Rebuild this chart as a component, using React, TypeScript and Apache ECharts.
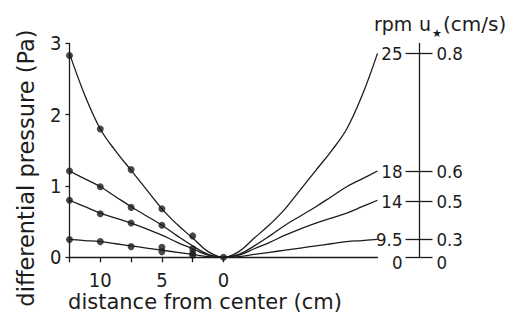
import React, { useEffect, useRef } from "react";
import * as echarts from "echarts";

// distance from center (cm) at which the fitted curves are read (left half)
const distances = [12.5, 11.25, 10, 8.75, 7.5, 6.25, 5, 3.75, 2.5, 1.25, 0];

// fitted curves: differential pressure (Pa)
const curve25 = [2.86, 2.27, 1.8, 1.49, 1.22, 0.95, 0.68, 0.46, 0.27, 0.08, 0];
const curve18 = [1.21, 1.1, 0.99, 0.85, 0.71, 0.58, 0.45, 0.3, 0.16, 0.04, 0];
const curve14 = [0.8, 0.71, 0.62, 0.55, 0.48, 0.4, 0.31, 0.21, 0.12, 0.03, 0];
const curve95 = [0.25, 0.235, 0.22, 0.19, 0.16, 0.13, 0.1, 0.07, 0.04, 0.01, 0];

// measured points [distance, pressure]
const points25 = [[12.5, 2.83], [10, 1.8], [7.5, 1.23], [5, 0.68], [2.5, 0.3]];
const points18 = [[12.5, 1.21], [10, 0.99], [7.5, 0.7], [5, 0.45], [2.5, 0.12]];
const points14 = [[12.5, 0.8], [10, 0.61], [7.5, 0.48], [2.5, 0.06]];
const points95 = [[12.5, 0.25], [10, 0.22], [7.5, 0.15], [5, 0.14], [5, 0.08], [2.5, 0.03]];
const pointsCenter = [[0, 0]];

// right-hand scale (pressure at curve end, rpm, friction velocity u*)
const endPressures = [0, 0.25, 0.78, 1.2, 2.86];
const rpmLabels = ["0", "9.5", "14", "18", "25"];
const uStarLabels = ["0", "0.3", "0.5", "0.6", "0.8"];

// axis ticks
const yTicks = [0, 1, 2, 3];
const xTicks = [12.5, 10, 7.5, 5, 2.5, 0];
const xTickLabels = [10, 5, 0];

const INK = "#1c1c1c";
const DIGIT_FONT = "'Liberation Sans Narrow', 'DejaVu Sans Condensed', 'Liberation Sans', sans-serif";
const TITLE_FONT = "'DejaVu Sans', sans-serif";

function symmetric(vals: number[]) {
  const left = distances.map((d, i) => [d, vals[i]]);
  const right = distances
    .slice(0, -1)
    .map((d, i) => [-d, vals[i]])
    .reverse();
  return left.concat(right);
}

function lookup(labels: string[]) {
  return (v: number) => {
    const i = endPressures.findIndex((p) => Math.abs(p - v) < 1e-6);
    return i >= 0 ? labels[i] : "";
  };
}

export default function App() {
  const ref = useRef<HTMLDivElement>(null);
  useEffect(() => {
    if (!ref.current) return;
    const chart = echarts.init(ref.current, null, { renderer: "svg" });
    const lineSeries = [curve25, curve18, curve14, curve95].map((c) => ({
      type: "line",
      data: symmetric(c),
      smooth: 0.4,
      showSymbol: false,
      symbol: "none",
      lineStyle: { color: INK, width: 1.3 },
      silent: true,
      z: 2,
    }));
    const scatterSeries = [points25, points18, points14, points95, pointsCenter].map((p) => ({
      type: "scatter",
      data: p,
      symbol: "circle",
      symbolSize: 7,
      itemStyle: { color: INK },
      silent: true,
      z: 3,
    }));

    // one right-hand axis per group of values, so that no label hides another
    const rightAxis = (
      values: number[],
      inside: boolean,
      labels: string[],
      showLine: boolean,
      atZero: boolean
    ) => ({
      type: "value",
      min: 0,
      max: 3,
      position: "right",
      offset: 42,
      splitLine: { show: false },
      axisLine: { show: showLine, onZero: false, lineStyle: { color: INK, width: 1.3 } },
      axisTick: {
        show: true,
        inside,
        customValues: values,
        length: inside ? 14 : 13,
        lineStyle: { color: INK, width: 1.3 },
      },
      axisLabel: {
        inside,
        customValues: values,
        formatter: lookup(labels),
        margin: 17,
        color: INK,
        fontFamily: DIGIT_FONT,
        fontSize: 18.5,
        verticalAlign: atZero ? "top" : "middle",
        lineHeight: atZero ? 10 : 18,
        showMinLabel: true,
        showMaxLabel: true,
      },
    });
    const upper = endPressures.slice(1);
    const zero = endPressures.slice(0, 1);

    chart.setOption({
      animation: false,
      backgroundColor: "#ffffff",
      grid: {
        left: 69.5,
        right: 148.5,
        top: 43.4,
        bottom: 62.7,
        containLabel: false,
        outerBoundsMode: "none",
      },
      xAxis: {
        type: "value",
        min: -12.5,
        max: 12.5,
        inverse: true,
        axisLine: { show: true, onZero: false, lineStyle: { color: INK, width: 1.3 } },
        axisTick: {
          show: true,
          customValues: xTicks,
          length: 5,
          lineStyle: { color: INK, width: 1.3 },
        },
        axisLabel: {
          customValues: xTickLabels,
          margin: 16,
          lineHeight: 14,
          color: INK,
          fontFamily: DIGIT_FONT,
          fontSize: 20,
        },
        splitLine: { show: false },
      },
      yAxis: [
        {
          type: "value",
          min: 0,
          max: 3,
          interval: 1,
          position: "left",
          axisLine: { show: true, onZero: false, lineStyle: { color: INK, width: 1.3 } },
          axisTick: { show: true, customValues: yTicks, length: 4, lineStyle: { color: INK, width: 1.3 } },
          axisLabel: {
            customValues: yTicks,
            margin: 8,
            color: INK,
            fontFamily: DIGIT_FONT,
            fontSize: 20,
            showMinLabel: true,
            showMaxLabel: true,
          },
          splitLine: { show: false },
        },
        rightAxis(upper, true, rpmLabels, true, false),
        rightAxis(upper, false, uStarLabels, false, false),
        rightAxis(zero, true, rpmLabels, false, true),
        rightAxis(zero, false, uStarLabels, false, true),
      ],
      graphic: [
        {
          type: "text",
          x: 26,
          y: 168,
          rotation: Math.PI / 2,
          style: {
            text: "differential pressure (Pa)",
            fill: INK,
            font: `22.5px ${TITLE_FONT}`,
            textAlign: "center",
            textVerticalAlign: "middle",
          },
        },
        {
          type: "text",
          x: 205,
          y: 302,
          style: {
            text: "distance from center (cm)",
            fill: INK,
            font: `21px ${TITLE_FONT}`,
            textAlign: "center",
            textVerticalAlign: "middle",
          },
        },
        {
          type: "text",
          x: 374,
          y: 24,
          style: {
            text: "rpm",
            fill: INK,
            font: `19px ${TITLE_FONT}`,
            textAlign: "left",
            textVerticalAlign: "middle",
          },
        },
        {
          type: "text",
          x: 419,
          y: 24,
          style: {
            text: "u",
            fill: INK,
            font: `19px ${TITLE_FONT}`,
            textAlign: "left",
            textVerticalAlign: "middle",
          },
        },
        {
          type: "text",
          x: 437,
          y: 33,
          style: {
            text: "★",
            fill: INK,
            font: `11px ${TITLE_FONT}`,
            textAlign: "center",
            textVerticalAlign: "middle",
          },
        },
        {
          type: "text",
          x: 443,
          y: 24,
          style: {
            text: "(cm/s)",
            fill: INK,
            font: `20px ${TITLE_FONT}`,
            textAlign: "left",
            textVerticalAlign: "middle",
          },
        },
      ],
      series: [...lineSeries, ...scatterSeries],
    });
    return () => chart.dispose();
  }, []);
  return (
    <div
      ref={ref}
      style={{ position: "fixed", left: 0, top: 0, width: 526, height: 320, background: "#fff" }}
    />
  );
}
